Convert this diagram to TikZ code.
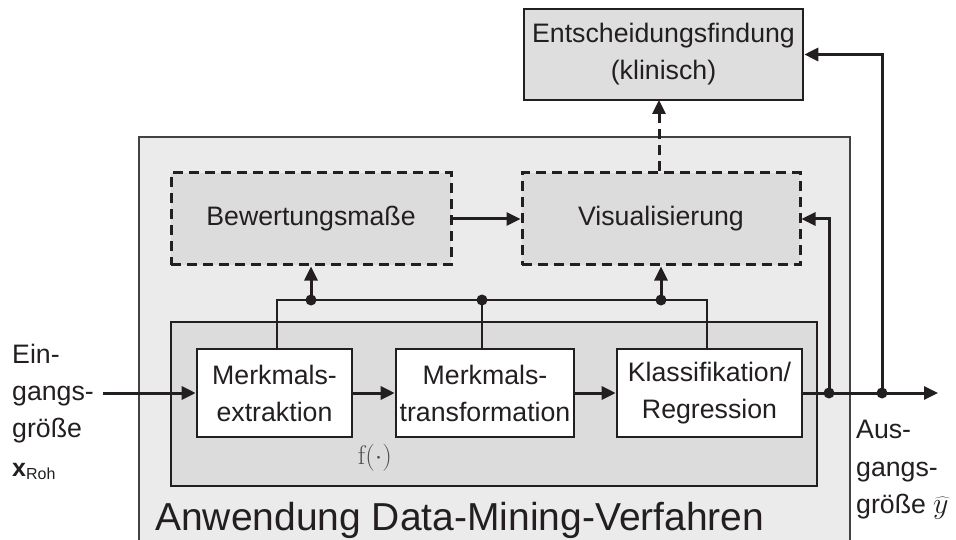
\RequirePackage{fix-cm}
\documentclass[tikz,border=0pt]{standalone}
\usepackage[no-math]{fontspec}
\setmainfont{Liberation Sans}
\usetikzlibrary{arrows.meta,calc}
\definecolor{ink}{HTML}{231F20}
\definecolor{outerfill}{HTML}{EBEBEB}
\definecolor{innerfill}{HTML}{DCDCDC}
\definecolor{entfill}{HTML}{DEDEDE}
\begin{document}
\begin{tikzpicture}[x=1pt,y=-1pt,
  txt/.style={font=\fontsize{26.7}{37}\selectfont,text=ink},
  whitebox/.style={txt,draw=ink,line width=2.6pt,fill=white,align=center,inner sep=0pt},
  dashbox/.style={txt,draw=ink,line width=3pt,dash pattern=on 10pt off 6pt,fill=innerfill,align=center,inner sep=0pt},
  entbox/.style={txt,draw=ink,line width=2.6pt,fill=entfill,align=center,inner sep=0pt},
  sig/.style={draw=ink,line width=3pt,-{Triangle[length=14pt,width=13pt]}},
  busline/.style={draw=ink,line width=2pt},
  junction/.style={circle,fill=ink,inner sep=0pt,minimum size=11pt},
  lab/.style={txt,anchor=base west,inner sep=0pt}
]
\useasboundingbox (0,0) rectangle (956,540);
\fill[white] (0,0) rectangle (956,540);
% outer box
\fill[outerfill] (139,137) rectangle (850,541);
\draw[draw=ink!85,line width=1.6pt] (139,541) -- (139,137) -- (850,137) -- (850,541);
% inner box
\draw[draw=ink,line width=2.6pt,fill=innerfill] (171,322) rectangle (817,486);

% nodes
\node[entbox,minimum width=279pt,minimum height=91pt] (ent) at (663.5,54.5) {Entscheidungsfindung\\(klinisch)};
\node[dashbox,minimum width=280pt,minimum height=92pt] (bew) at (311,219) {Bewertungsmaße};
\node[dashbox,minimum width=278pt,minimum height=92pt] (vis) at (661,219) {Visualisierung};
\node[whitebox,minimum width=155pt,minimum height=88pt] (mex) at (274.5,393) {Merkmals-\\extraktion};
\node[whitebox,minimum width=178pt,minimum height=88pt] (mtr) at (485,393) {Merkmals-\\transformation};
\node[whitebox,minimum width=185pt,minimum height=88pt] (kla) at (709.5,393) {Klassifikation/\\Regression};

% coordinates
\coordinate (bL) at (277,300);
\coordinate (bR) at (707,300);
\coordinate (in) at (103,393);
\coordinate (out) at (938,393);
\coordinate (d1) at (829,393);
\coordinate (d2) at (882,393);

% bus
\draw[busline] (bL |- mex.north) -- (bL) -- (bR) -- (bR |- kla.north);
\draw[busline] (mtr.north -| 482,0) -- (482,300);
\node[junction] (j2) at (482,300) {};
\node[junction] (j1) at (bew.south |- bL) {};
\node[junction] (j3) at (vis.south |- bL) {};
\draw[sig] (j1.center) -- (bew.south);
\draw[sig] (j3.center) -- (vis.south);

% main chain
\draw[sig] (in) -- (mex.west);
\draw[sig] (mex.east) -- (mtr.west);
\draw[sig] (mtr.east) -- (kla.west);
\draw[sig] (kla.east) -- (out);
\node[junction] (jd1) at (d1) {};
\node[junction] (jd2) at (d2) {};
\draw[sig] (jd1.center) |- (vis.east);
\draw[sig] (jd2.center) |- (ent.east);
\draw[sig] (bew.east) -- (vis.west);
\draw[sig,dash pattern=on 10pt off 6pt] (vis.north -| 659,0) -- (659,100);

% labels
\node[lab] (l1) at (12,363) {Ein-};
\node[lab] (l2) at (12,400) {gangs-};
\node[lab] (l3) at (12,437) {größe};
\node[lab,font=\fontsize{25}{28}\selectfont\bfseries] (l4) at (12,476) {x\textmd{\fontsize{16}{18}\selectfont\raisebox{-3pt}{Roh}}};
\node[lab] (r1) at (856,438) {Aus-};
\node[lab] (r2) at (856,476) {gangs-};
\node[lab] (r3) at (856,513) {größe};
\node[anchor=base west,inner sep=0pt,text=ink] (yhat) at (933,513) {\fontsize{30}{32}\selectfont$\widehat{y}$};
\node[inner sep=0pt,text=ink!80] (f) at (375,458) {\fontsize{27}{30}\selectfont$\mathrm{f}(\cdot)$};
\node[lab,font=\fontsize{39}{44}\selectfont] (title) at (155,530) {Anwendung Data-Mining-Verfahren};
\end{tikzpicture}
\end{document}
